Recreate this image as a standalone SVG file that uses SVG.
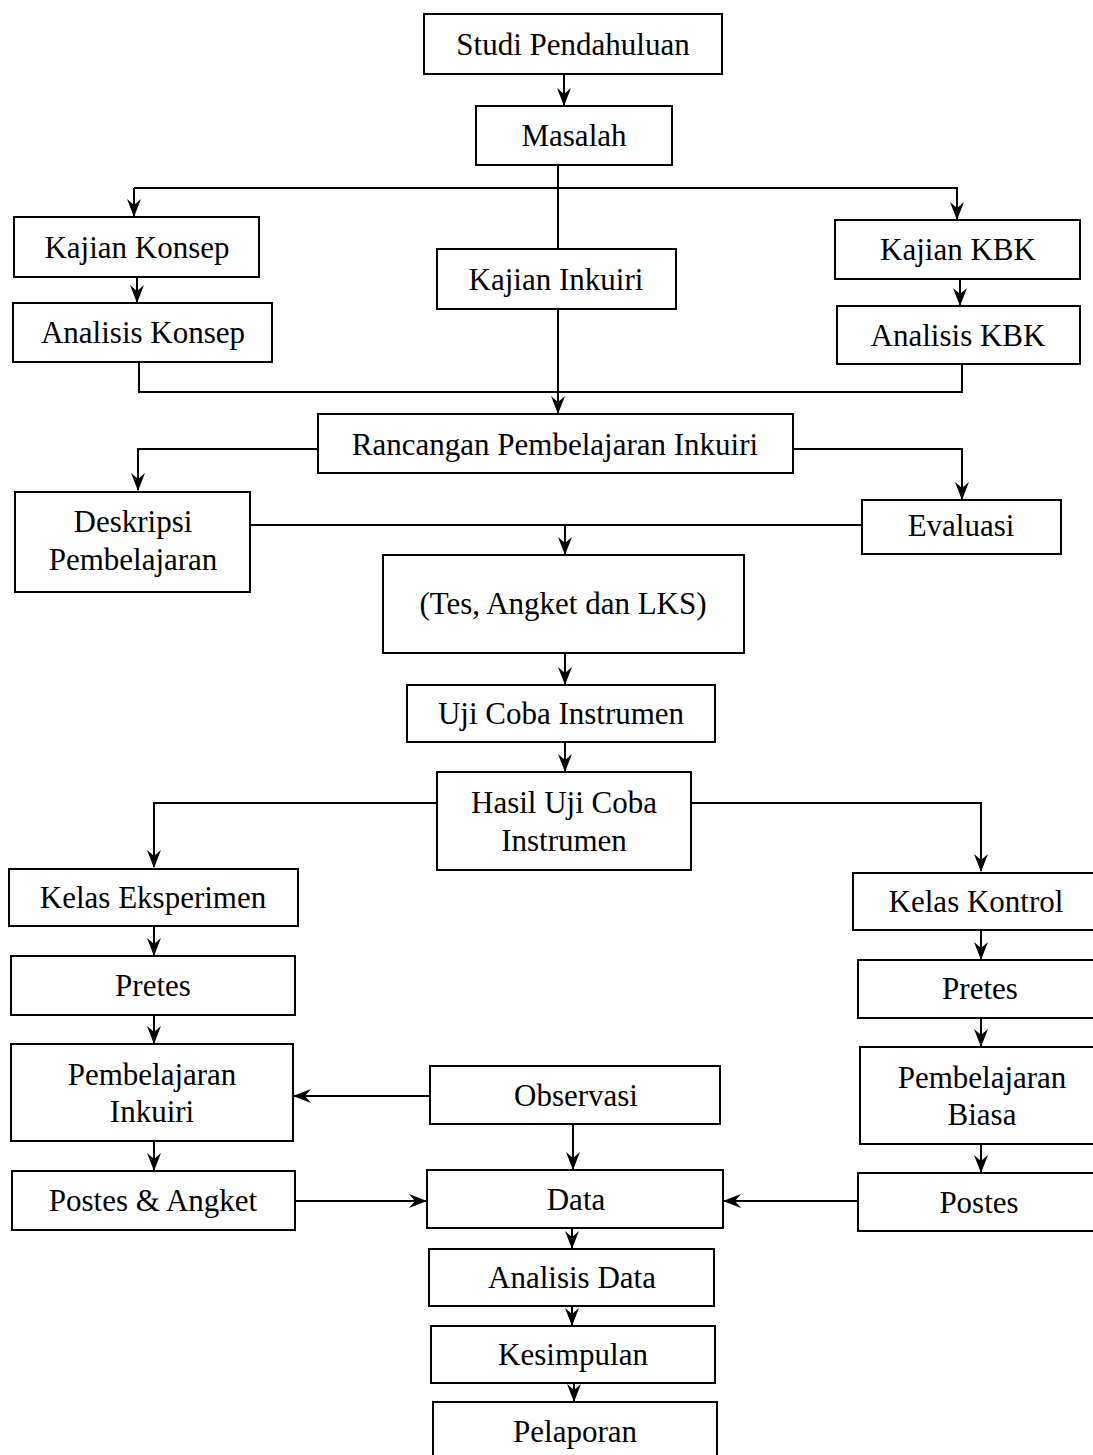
<svg xmlns="http://www.w3.org/2000/svg" width="1093" height="1455" viewBox="0 0 1093 1455">
<style>
.box{fill:#fff;stroke:#000;stroke-width:2}
.t{font-family:"Liberation Serif","Times New Roman",serif;font-size:31px;fill:#000;text-anchor:middle}
.c{fill:none;stroke:#000;stroke-width:2}
</style>
<defs>
<marker id="a" viewBox="0 0 18 14" refX="17" refY="7" markerWidth="18" markerHeight="14" markerUnits="userSpaceOnUse" orient="auto">
<path d="M0,0 L18,7 L0,14 L6,7 z" fill="#000"/>
</marker>
</defs>
<rect width="1093" height="1455" fill="#fff"/>
<g id="connectors">
<path class="c" d="M564,74 V105" marker-end="url(#a)"/>
<path class="c" d="M558,165 V249"/>
<path class="c" d="M134,188 H957 V219" marker-end="url(#a)"/>
<path class="c" d="M134,188 V216" marker-end="url(#a)"/>
<path class="c" d="M137,277 V302" marker-end="url(#a)"/>
<path class="c" d="M960,279 V305" marker-end="url(#a)"/>
<path class="c" d="M558,309 V413" marker-end="url(#a)"/>
<path class="c" d="M139,362 V392 H962 V364"/>
<path class="c" d="M318,449 H138 V490" marker-end="url(#a)"/>
<path class="c" d="M793,449 H962 V499" marker-end="url(#a)"/>
<path class="c" d="M250,525 H862"/>
<path class="c" d="M565,525 V554" marker-end="url(#a)"/>
<path class="c" d="M565,653 V684" marker-end="url(#a)"/>
<path class="c" d="M565,742 V771" marker-end="url(#a)"/>
<path class="c" d="M437,803 H154 V867" marker-end="url(#a)"/>
<path class="c" d="M691,803 H981 V871" marker-end="url(#a)"/>
<path class="c" d="M154,926 V955" marker-end="url(#a)"/>
<path class="c" d="M154,1015 V1043" marker-end="url(#a)"/>
<path class="c" d="M154,1141 V1170" marker-end="url(#a)"/>
<path class="c" d="M981,930 V959" marker-end="url(#a)"/>
<path class="c" d="M981,1018 V1046" marker-end="url(#a)"/>
<path class="c" d="M981,1144 V1172" marker-end="url(#a)"/>
<path class="c" d="M430,1096 H294" marker-end="url(#a)"/>
<path class="c" d="M573,1124 V1169" marker-end="url(#a)"/>
<path class="c" d="M295,1201 H426" marker-end="url(#a)"/>
<path class="c" d="M858,1201 H724" marker-end="url(#a)"/>
<path class="c" d="M572,1228 V1248" marker-end="url(#a)"/>
<path class="c" d="M572,1306 V1325" marker-end="url(#a)"/>
<path class="c" d="M574,1383 V1401" marker-end="url(#a)"/>
</g>
<g id="studi"><rect class="box" x="424" y="14" width="298" height="60"/><text class="t" x="573" y="55">Studi Pendahuluan</text></g>
<g id="masalah"><rect class="box" x="476" y="106" width="196" height="59"/><text class="t" x="574" y="146">Masalah</text></g>
<g id="kajian-konsep"><rect class="box" x="14" y="217" width="245" height="60"/><text class="t" x="137" y="258">Kajian Konsep</text></g>
<g id="kajian-inkuiri"><rect class="box" x="437" y="249" width="239" height="60"/><text class="t" x="556" y="290">Kajian Inkuiri</text></g>
<g id="kajian-kbk"><rect class="box" x="835" y="220" width="245" height="59"/><text class="t" x="958" y="260">Kajian KBK</text></g>
<g id="analisis-konsep"><rect class="box" x="13" y="303" width="259" height="59"/><text class="t" x="143" y="343">Analisis Konsep</text></g>
<g id="analisis-kbk"><rect class="box" x="837" y="306" width="243" height="58"/><text class="t" x="958" y="346">Analisis KBK</text></g>
<g id="rancangan"><rect class="box" x="318" y="414" width="475" height="59"/><text class="t" x="555" y="455">Rancangan Pembelajaran Inkuiri</text></g>
<g id="deskripsi"><rect class="box" x="15" y="492" width="235" height="100"/><text class="t" x="133" y="532">Deskripsi</text><text class="t" x="133" y="570">Pembelajaran</text></g>
<g id="evaluasi"><rect class="box" x="862" y="500" width="199" height="54"/><text class="t" x="961" y="536">Evaluasi</text></g>
<g id="tes"><rect class="box" x="383" y="555" width="361" height="98"/><text class="t" x="563" y="614">(Tes, Angket dan LKS)</text></g>
<g id="uji-coba"><rect class="box" x="407" y="685" width="308" height="57"/><text class="t" x="561" y="724">Uji Coba Instrumen</text></g>
<g id="hasil"><rect class="box" x="437" y="772" width="254" height="98"/><text class="t" x="564" y="813">Hasil Uji Coba</text><text class="t" x="564" y="851">Instrumen</text></g>
<g id="kelas-eksperimen"><rect class="box" x="9" y="869" width="289" height="57"/><text class="t" x="153" y="908">Kelas Eksperimen</text></g>
<g id="kelas-kontrol"><rect class="box" x="853" y="873" width="242" height="57"/><text class="t" x="976" y="912">Kelas Kontrol</text></g>
<g id="pretes-e"><rect class="box" x="11" y="956" width="284" height="59"/><text class="t" x="153" y="996">Pretes</text></g>
<g id="pretes-k"><rect class="box" x="858" y="960" width="237" height="58"/><text class="t" x="980" y="999">Pretes</text></g>
<g id="pemb-inkuiri"><rect class="box" x="11" y="1044" width="282" height="97"/><text class="t" x="152" y="1085">Pembelajaran</text><text class="t" x="152" y="1122">Inkuiri</text></g>
<g id="pemb-biasa"><rect class="box" x="860" y="1047" width="235" height="97"/><text class="t" x="982" y="1088">Pembelajaran</text><text class="t" x="982" y="1125">Biasa</text></g>
<g id="observasi"><rect class="box" x="430" y="1066" width="290" height="58"/><text class="t" x="576" y="1106">Observasi</text></g>
<g id="postes-angket"><rect class="box" x="12" y="1171" width="283" height="59"/><text class="t" x="153" y="1211">Postes &amp; Angket</text></g>
<g id="data"><rect class="box" x="427" y="1170" width="296" height="58"/><text class="t" x="576" y="1210">Data</text></g>
<g id="postes-k"><rect class="box" x="858" y="1173" width="237" height="58"/><text class="t" x="979" y="1213">Postes</text></g>
<g id="analisis-data"><rect class="box" x="429" y="1249" width="285" height="57"/><text class="t" x="572" y="1288">Analisis Data</text></g>
<g id="kesimpulan"><rect class="box" x="431" y="1326" width="284" height="57"/><text class="t" x="573" y="1365">Kesimpulan</text></g>
<g id="pelaporan"><rect class="box" x="433" y="1402" width="284" height="60"/><text class="t" x="575" y="1442">Pelaporan</text></g>
</svg>
